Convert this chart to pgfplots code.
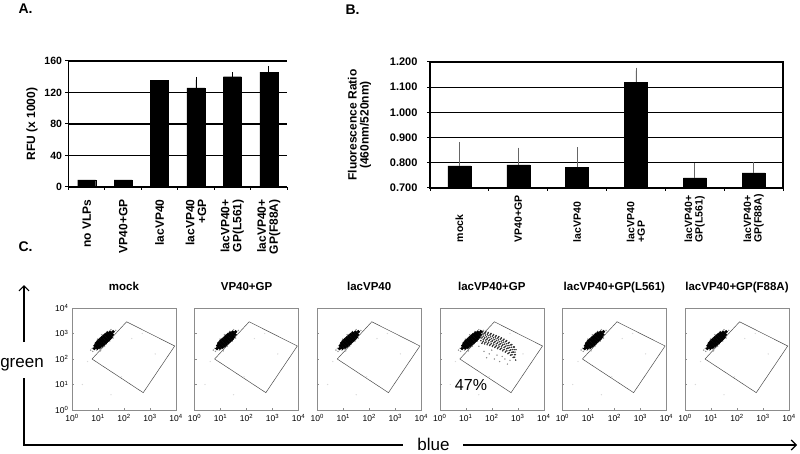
\documentclass[border=0pt]{standalone}
\usepackage{pgfplots}
\usepackage{pgfplotstable}
\usepackage{fontspec}
\setmainfont{Liberation Sans}
\pgfplotsset{compat=1.18}
\usetikzlibrary{arrows.meta}

\newcommand{\fs}[1]{\fontsize{#1}{#1}\selectfont}

\pgfplotstableread{
x y
0.860 2.410
1.580 3.070
0.977 2.426
0.932 2.476
0.887 2.526
1.553 2.954
1.508 3.004
1.463 3.054
1.076 2.462
1.040 2.502
1.004 2.542
0.968 2.582
0.932 2.622
1.508 2.858
1.472 2.898
1.436 2.938
1.400 2.978
1.364 3.018
1.157 2.518
1.117 2.563
1.076 2.608
1.036 2.653
0.995 2.698
1.445 2.782
1.405 2.827
1.364 2.872
1.324 2.917
1.283 2.962
1.229 2.584
1.189 2.629
1.148 2.674
1.108 2.719
1.067 2.764
1.373 2.716
1.333 2.761
1.292 2.806
1.252 2.851
1.211 2.896
1.301 2.650
1.261 2.695
1.220 2.740
1.180 2.785
1.139 2.830
}\cluster

\pgfplotstableread{
x y
0.80 2.30
0.85 2.50
0.78 2.42
0.95 2.35
1.05 2.40
1.30 2.58
1.45 2.70
1.62 2.95
1.68 3.12
1.50 3.15
1.15 2.95
0.98 2.78
0.90 2.62
1.35 3.08
1.25 2.50
1.10 2.32
0.72 2.35
1.58 2.82
}\halo

\pgfplotstableread{
x y
2.30 2.80
0.60 1.90
1.90 1.30
2.70 3.00
3.20 2.20
1.50 0.60
0.40 1.00
}\stray

\pgfplotstableread{
x y
1.62 2.61
1.58 2.72
1.61 2.82
1.59 2.92
1.63 3.02
1.57 3.12
1.64 2.66
1.67 2.76
1.63 2.86
1.66 2.96
1.65 3.06
1.72 2.59
1.68 2.70
1.71 2.80
1.69 2.90
1.73 3.00
1.67 3.10
1.74 2.64
1.77 2.74
1.73 2.84
1.76 2.94
1.75 3.04
1.82 2.56
1.78 2.67
1.81 2.77
1.79 2.87
1.83 2.97
1.77 3.07
1.84 2.61
1.87 2.71
1.83 2.81
1.86 2.91
1.85 3.01
1.92 2.53
1.88 2.64
1.91 2.74
1.89 2.84
1.93 2.94
1.87 3.04
1.94 2.57
1.97 2.67
1.93 2.77
1.96 2.87
1.95 2.97
2.02 2.49
1.98 2.60
2.01 2.70
1.99 2.80
2.03 2.90
1.97 3.00
2.04 2.53
2.07 2.63
2.03 2.73
2.06 2.83
2.05 2.93
2.12 2.45
2.08 2.56
2.11 2.66
2.09 2.76
2.13 2.86
2.07 2.96
2.14 2.49
2.17 2.59
2.13 2.69
2.16 2.79
2.15 2.89
2.22 2.41
2.18 2.52
2.21 2.62
2.19 2.72
2.23 2.82
2.17 2.92
2.24 2.45
2.27 2.55
2.23 2.65
2.26 2.75
2.25 2.85
2.32 2.37
2.28 2.48
2.31 2.58
2.29 2.68
2.33 2.78
2.27 2.88
2.34 2.40
2.37 2.50
2.33 2.60
2.36 2.70
2.35 2.80
2.42 2.32
2.38 2.43
2.41 2.53
2.39 2.63
2.43 2.73
2.37 2.83
2.44 2.36
2.47 2.46
2.43 2.56
2.46 2.66
2.45 2.76
2.52 2.27
2.48 2.38
2.51 2.48
2.49 2.58
2.53 2.68
2.47 2.78
2.54 2.30
2.57 2.40
2.53 2.50
2.56 2.60
2.55 2.70
2.62 2.21
2.58 2.32
2.61 2.42
2.59 2.52
2.63 2.62
2.57 2.72
2.64 2.23
2.67 2.33
2.63 2.43
2.66 2.53
2.65 2.63
2.72 2.14
2.68 2.25
2.71 2.35
2.69 2.45
2.73 2.55
2.67 2.65
2.74 2.16
2.77 2.26
2.73 2.36
2.76 2.46
2.75 2.56
2.82 2.06
2.78 2.17
2.81 2.27
2.79 2.37
2.83 2.47
2.77 2.57
2.84 2.07
2.87 2.17
2.83 2.27
2.86 2.37
2.85 2.47
2.92 1.96
2.88 2.07
2.91 2.17
2.89 2.27
2.93 2.37
2.87 2.47
}\band

\pgfplotstableread{
x y
1.90 2.20
2.10 2.00
2.30 1.90
2.00 2.35
1.70 2.30
2.50 2.00
2.20 2.15
1.50 2.50
2.60 1.80
1.80 2.05
2.40 2.10
2.70 1.95
}\bandlow

\pgfplotstableread{
x y
0.77 2.00
2.10 3.46
3.95 2.51
2.74 0.68
0.77 2.00
}\gate

\pgfplotsset{
  bars/.style={scale only axis, height=126pt, xmin=0.5, xmax=6.5,
    ybar, xtick={0.5,1.5,...,6.5}, x tick label as interval,
    ymajorgrids, grid style={black, line width=1.3pt},
    axis line style={black, line width=1.5pt},
    tick style={black, line width=1pt}, tick align=outside, major tick length=3pt,
    xtick pos=bottom, ytick pos=left,
    /pgf/number format/assume math mode=true,
    tick label style={font=\bfseries\fs{10.5}},
    label style={font=\bfseries\fs{12}}},
  flow/.style={scale only axis, width=104pt, height=102pt,
    xmin=0, xmax=4, ymin=0, ymax=4, xtick={0,...,4}, ytick={0,...,4},
    xticklabels={10\textsuperscript{0},10\textsuperscript{1},10\textsuperscript{2},10\textsuperscript{3},10\textsuperscript{4}},
    yticklabels={},
    axis line style={black!45, line width=0.6pt},
    tick style={black!45, line width=0.5pt}, tick align=inside, major tick length=2pt,
    xtick pos=bottom, ytick pos=left,
    tick label style={font=\fs{8.5}}, xticklabel style={yshift=-1pt},
    title style={font=\bfseries\fs{11.5}, at={(0.5,1)}, anchor=base, yshift=12pt}},
  dots/.style={only marks, mark=*, color=#1, mark options={draw=none, fill=#1}},
}

\newcommand{\cells}{%
  \addplot[dots=black!15, mark size=0.4pt] table {\stray};
  \addplot[dots=black!40, mark size=0.5pt] table {\halo};
  \addplot[dots=black, mark size=1.5pt] table {\cluster};
  \addplot[black!70, line width=0.5pt] table {\gate};
}

\begin{document}
\begin{tikzpicture}
\useasboundingbox (0pt,0pt) rectangle (800pt,453pt);

% A
\begin{axis}[bars, at={(68.5pt,266pt)}, anchor=south west, width=218.5pt,
  ymin=0, ymax=160, ytick={0,40,80,120,160}, bar width=18pt, bar shift=0pt,
  axis x line*=bottom, axis y line*=left,
  ylabel={RFU (x 1000)},
  xticklabels={no VLPs,VP40+GP,lacVP40,{lacVP40\\+GP},{lacVP40+\\GP(L561)},{lacVP40+\\GP(F88A)}},
  xticklabel shift=6pt,
  xticklabel style={rotate=90, anchor=east, align=right, font=\bfseries\fs{12}}]
\addplot[fill=black, draw=black, bar shift=0pt] coordinates {(1,9) (2,9) (3,135)};
\addplot[fill=black, draw=black, bar shift=0pt, error bars/.cd, y dir=plus, y explicit,
  error bar style={black, line width=0.8pt}, error mark options={black, mark size=3pt, line width=0.8pt}]
  coordinates {(4,126) +- (0,10) (5,140) +- (0,2) (6,146) +- (0,4)};
\end{axis}

% B
\begin{axis}[bars, at={(430pt,265pt)}, anchor=south west, width=353pt,
  ymin=0.7, ymax=1.2, ytick={0.7,0.8,0.9,1.0,1.1,1.2}, bar width=23pt,
  /pgf/number format/fixed, /pgf/number format/fixed zerofill, /pgf/number format/precision=3,
  yticklabel style={xshift=-6pt, font=\bfseries\fs{11}},
  ylabel={Fluorescence Ratio\\(460nm/520nm)}, ylabel style={align=center, yshift=12pt},
  xticklabels={mock,VP40+GP,lacVP40,{lacVP40\\+GP},{lacVP40+\\GP(L561)},{lacVP40+\\GP(F88A)}},
  xticklabel style={rotate=90, anchor=east, align=left, text width=51pt, inner sep=0pt, font=\bfseries\fs{10.5}}]
\addplot[fill=black, draw=black, error bars/.cd, y dir=plus, y explicit,
  error bar style={black!60, line width=0.8pt}, error mark options={black!60, mark size=3pt, line width=0.8pt}]
  coordinates {(1,0.788) +- (0,0.083) (2,0.792) +- (0,0.056) (3,0.782) +- (0,0.068) (4,1.120) +- (0,0.046) (5,0.740) +- (0,0.046) (6,0.760) +- (0,0.033)};
\end{axis}

% C
\begin{axis}[flow, at={(72pt,43pt)}, anchor=south west, title={mock},
  yticklabels={10\textsuperscript{0},10\textsuperscript{1},10\textsuperscript{2},10\textsuperscript{3},10\textsuperscript{4}}]
\cells
\end{axis}
\begin{axis}[flow, at={(194.6pt,43pt)}, anchor=south west, title={VP40+GP}]
\cells
\end{axis}
\begin{axis}[flow, at={(317.2pt,43pt)}, anchor=south west, title={lacVP40}]
\cells
\end{axis}
\begin{axis}[flow, at={(439.8pt,43pt)}, anchor=south west, title={lacVP40+GP}]
\addplot[dots=black!45, mark size=0.45pt] table {\bandlow};
\addplot[dots=black!80, mark size=0.5pt] table {\band};
\cells
\node[font=\fs{16}] at (axis cs:1.2,1.0) {47\%};
\end{axis}
\begin{axis}[flow, at={(562.4pt,43pt)}, anchor=south west, title={lacVP40+GP(L561)}]
\cells
\end{axis}
\begin{axis}[flow, at={(685pt,43pt)}, anchor=south west, title={lacVP40+GP(F88A)}]
\cells
\end{axis}

% panel letters
\node[anchor=base west, font=\bfseries\fs{14}] at (15pt,439pt) {A.};
\node[anchor=base west, font=\bfseries\fs{14}] at (342pt,438pt) {B.};
\node[anchor=base west, font=\bfseries\fs{14}] at (15pt,201pt) {C.};

% flow axes
\draw[line width=1.2pt, -{Straight Barb[length=5pt, width=10pt]}] (24pt,111pt) -- (24pt,168pt);
\node[anchor=base, font=\fs{17}] at (22pt,86pt) {green};
\draw[line width=1.2pt] (24pt,75pt) -- (24pt,8pt) -- (403pt,8pt);
\node[anchor=base, font=\fs{17}] at (433.5pt,2.5pt) {blue};
\draw[line width=1.2pt, -{Straight Barb[length=5pt, width=10pt]}] (463pt,8pt) -- (797pt,8pt);
\end{tikzpicture}
\end{document}
